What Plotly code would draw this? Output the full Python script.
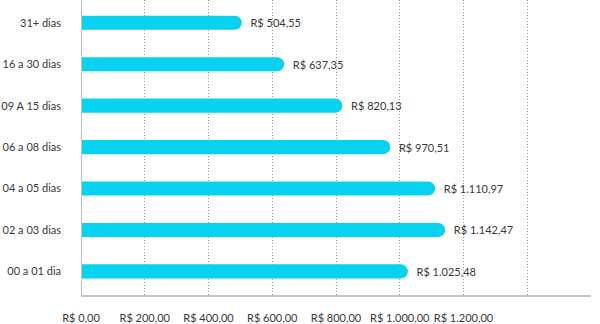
import plotly.graph_objects as go

categories = ["00 a 01 dia", "02 a 03 dias", "04 a 05 dias", "06 a 08 dias",
              "09 A 15 dias", "16 a 30 dias", "31+ dias"]
values = [1025.48, 1142.47, 1110.97, 970.51, 820.13, 637.35, 504.55]
tick_vals = [0, 200, 400, 600, 800, 1000, 1200, 1400, 1600]
tick_text = ["R$ 0,00", "R$ 200,00", "R$ 400,00", "R$ 600,00", "R$ 800,00",
             "R$ 1.000,00", "R$ 1.200,00", "", ""]


def brl(v):
    s = f"{v:,.2f}"
    s = s.replace(",", "X").replace(".", ",").replace("X", ".")
    return "R$ " + s


labels = ["  " + brl(v) for v in values]

FONT = "Lato"
fig = go.Figure(go.Bar(
    y=categories, x=values, orientation="h",
    marker=dict(color="#08D2EF", line=dict(width=0)),
    width=0.34,
    text=labels, textposition="outside",
    textfont=dict(family=FONT, size=11, color="#3a3a3a"),
    cliponaxis=False,
))

fig.update_layout(
    width=600, height=324,
    margin=dict(l=81, r=9, t=0, b=26),
    paper_bgcolor="white", plot_bgcolor="white",
    barcornerradius=7,
    showlegend=False,
    font=dict(family=FONT, color="#3a3a3a"),
)
fig.update_xaxes(
    range=[0, 1600], tickvals=tick_vals, ticktext=tick_text,
    showgrid=True, gridcolor="#999999", griddash="1px,2px", gridwidth=1,
    zeroline=False, showline=True, linecolor="#c4c4c4", linewidth=2,
    tickfont=dict(family=FONT, size=11, color="#3a3a3a"),
    ticklabelstandoff=12,
)
fig.update_yaxes(
    categoryorder="array", categoryarray=categories,
    range=[-0.57, 6.55],
    showgrid=False, zeroline=False,
    showline=False,
    tickfont=dict(family=FONT, size=11, color="#3a3a3a"),
    ticklabelstandoff=19,
)
fig.add_shape(type="line", xref="x", yref="paper", x0=0, x1=0, y0=0, y1=1,
              line=dict(color="#c4c4c4", width=2))

fig.write_html("out.html")
